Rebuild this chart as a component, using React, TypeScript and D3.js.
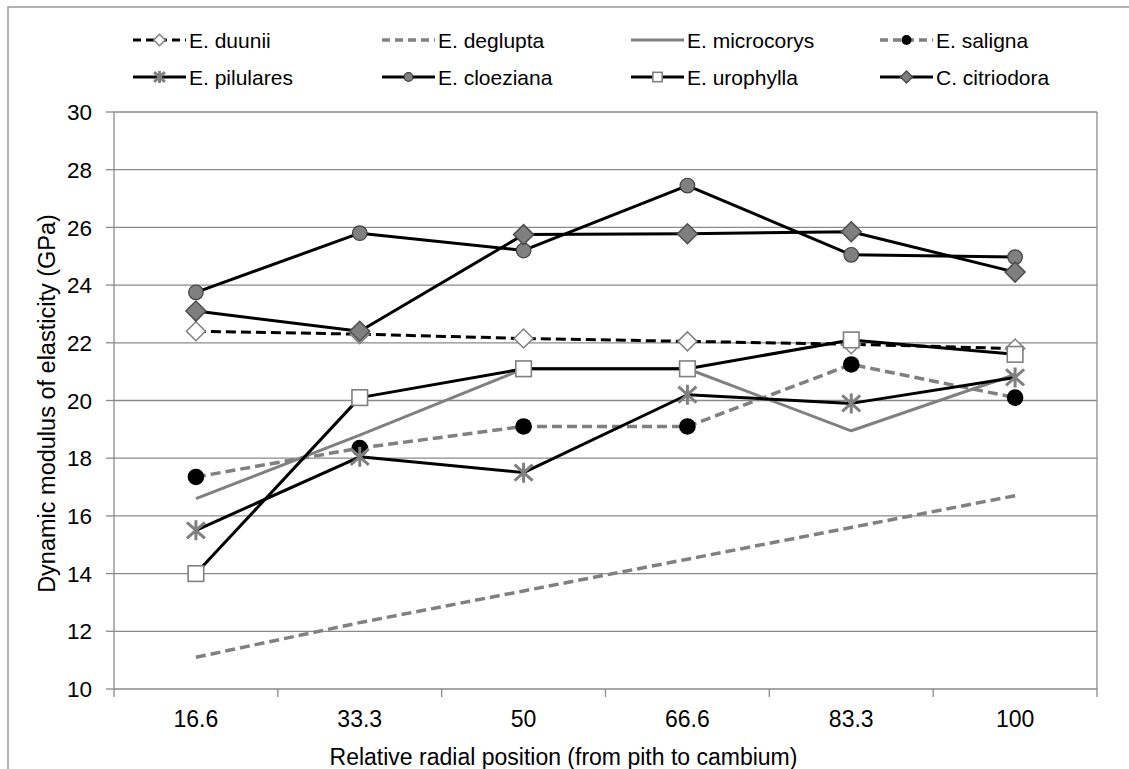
import * as d3 from "d3";

const categories = ["16.6", "33.3", "50", "66.6", "83.3", "100"];
const yTicks = [10, 12, 14, 16, 18, 20, 22, 24, 26, 28, 30];

const duunii = [22.4, 22.3, 22.15, 22.05, 21.95, 21.8];
const deglupta = [11.1, 12.3, 13.4, 14.5, 15.6, 16.7];
const microcorys = [16.6, 18.8, 21.1, 21.1, 18.95, 20.9];
const saligna = [17.35, 18.35, 19.1, 19.1, 21.25, 20.1];
const pilulares = [15.5, 18.05, 17.5, 20.2, 19.9, 20.8];
const cloeziana = [23.75, 25.8, 25.2, 27.45, 25.05, 24.97];
const urophylla = [14.0, 20.1, 21.1, 21.1, 22.1, 21.6];
const citriodora = [23.1, 22.4, 25.75, 25.78, 25.85, 24.45];

type Marker = "none" | "diamondWhite" | "diamondGray" | "dotBlack" | "dotGray" | "square" | "star";

const series: { name: string; values: number[]; stroke: string; dash?: string; width: number; marker: Marker }[] = [
    { name: "E. duunii", values: duunii, stroke: "#000", dash: "10,5", width: 3, marker: "diamondWhite" },
    { name: "E. deglupta", values: deglupta, stroke: "#808080", dash: "10,5", width: 3.5, marker: "none" },
    { name: "E. microcorys", values: microcorys, stroke: "#808080", width: 3, marker: "none" },
    { name: "E. saligna", values: saligna, stroke: "#808080", dash: "10,5", width: 3.5, marker: "dotBlack" },
    { name: "E. pilulares", values: pilulares, stroke: "#000", width: 3, marker: "star" },
    { name: "E. cloeziana", values: cloeziana, stroke: "#000", width: 3, marker: "dotGray" },
    { name: "E. urophylla", values: urophylla, stroke: "#000", width: 3, marker: "square" },
    { name: "C. citriodora", values: citriodora, stroke: "#000", width: 3, marker: "diamondGray" },
];

const FONT = "'Liberation Sans', Arial, sans-serif";

function MarkerShape({ type, x, y, k }: { type: Marker; x: number; y: number; k: number }) {
    if (type === "none") return null;
    if (type === "diamondWhite" || type === "diamondGray") {
        const s = (type === "diamondWhite" ? 9.5 : 10) * k;
        return (
            <path
                d={`M${x},${y - s}L${x + s},${y}L${x},${y + s}L${x - s},${y}Z`}
                fill={type === "diamondWhite" ? "#fff" : "#7f7f7f"}
                stroke={type === "diamondWhite" ? "#808080" : "#4d4d4d"}
                strokeWidth={1.5}
            />
        );
    }
    if (type === "dotBlack") return <circle cx={x} cy={y} r={8.3 * k} fill="#000" />;
    if (type === "dotGray") return <circle cx={x} cy={y} r={7.3 * k} fill="#808080" stroke="#404040" strokeWidth={1.2} />;
    if (type === "square") {
        const s = 7.8 * k;
        return <rect x={x - s} y={y - s} width={2 * s} height={2 * s} fill="#fff" stroke="#808080" strokeWidth={1.6} />;
    }
    const s = 10 * k;
    return (
        <path
            d={`M${x},${y - s}L${x},${y + s}M${x - s * 0.9},${y - s * 0.8}L${x + s * 0.9},${y + s * 0.8}M${x - s * 0.9},${y + s * 0.8}L${x + s * 0.9},${y - s * 0.8}`}
            stroke="#808080"
            strokeWidth={3}
            fill="none"
        />
    );
}

export default function App() {
    const width = 1129;
    const height = 769;
    const left = 114, right = 1097, top = 112, bottom = 689;

    const x = d3.scaleBand<string>().domain(categories).range([left, right]).padding(0);
    const y = d3.scaleLinear().domain([10, 30]).range([bottom, top]);
    const cx = (c: string) => (x(c) || 0) + x.bandwidth() / 2;

    const line = d3
        .line<number>()
        .x((_, i) => cx(categories[i]))
        .y(d => y(d));

    const boundaries = categories.map(c => x(c) || 0).concat([right]);

    const legendCols = [133, 382, 631, 880];
    const legendRows = [40, 77];

    return (
        <svg width={width} height={height} style={{ position: "fixed", left: 0, top: 0, background: "#fff" }} fontFamily={FONT}>
            <rect x={0} y={0} width={width} height={height} fill="#fff" />
            {/* outer frame */}
            <path d={`M8,${height}L8,7L${width},7`} fill="none" stroke="#9a9a9a" strokeWidth={1.5} />

            {/* gridlines */}
            {yTicks.filter(t => t > 10).map(t => (
                <line key={t} x1={left} x2={right} y1={y(t)} y2={y(t)} stroke="#8a8a8a" strokeWidth={1.3} />
            ))}
            <line x1={right} x2={right} y1={top} y2={bottom} stroke="#8a8a8a" strokeWidth={1.3} />

            {/* axes */}
            <line x1={left} x2={left} y1={top} y2={bottom} stroke="#8a8a8a" strokeWidth={1.3} />
            <line x1={left} x2={right} y1={bottom} y2={bottom} stroke="#8a8a8a" strokeWidth={1.3} />
            {yTicks.map(t => (
                <g key={t}>
                    <line x1={left - 8} x2={left} y1={y(t)} y2={y(t)} stroke="#8a8a8a" strokeWidth={1.3} />
                    <text x={92} y={y(t)} dy="0.36em" textAnchor="end" fontSize={22.5} fill="#000">{t}</text>
                </g>
            ))}
            {boundaries.map((b, i) => (
                <line key={i} x1={b} x2={b} y1={bottom} y2={bottom + 8} stroke="#8a8a8a" strokeWidth={1.3} />
            ))}
            {categories.map(c => (
                <text key={c} x={cx(c)} y={727} textAnchor="middle" fontSize={23} fill="#000">{c}</text>
            ))}

            <text x={(left + right) / 2 - 42} y={765} textAnchor="middle" fontSize={23} fill="#000">
                Relative radial position (from pith to cambium)
            </text>
            <text transform={`translate(55,${(top + bottom) / 2 + 3}) rotate(-90)`} textAnchor="middle" fontSize={23.5} fill="#000">
                Dynamic modulus of elasticity (GPa)
            </text>

            {/* series */}
            {series.map(s => (
                <g key={s.name}>
                    <path d={line(s.values) || ""} fill="none" stroke={s.stroke} strokeWidth={s.width} strokeDasharray={s.dash} strokeLinejoin="round" />
                    {s.values.map((v, i) => (
                        <MarkerShape key={i} type={s.marker} x={cx(categories[i])} y={y(v)} k={1} />
                    ))}
                </g>
            ))}

            {/* legend */}
            {series.map((s, i) => {
                const lx = legendCols[i % 4];
                const ly = legendRows[Math.floor(i / 4)];
                return (
                    <g key={s.name}>
                        <line x1={lx} x2={lx + 53} y1={ly} y2={ly} stroke={s.stroke} strokeWidth={s.width} strokeDasharray={s.dash ? "8,5" : undefined} />
                        <MarkerShape type={s.marker} x={lx + 26.5} y={ly} k={0.6} />
                        <text x={lx + 56} y={ly} dy="0.36em" fontSize={21} fill="#000">{s.name}</text>
                    </g>
                );
            })}
        </svg>
    );
}
